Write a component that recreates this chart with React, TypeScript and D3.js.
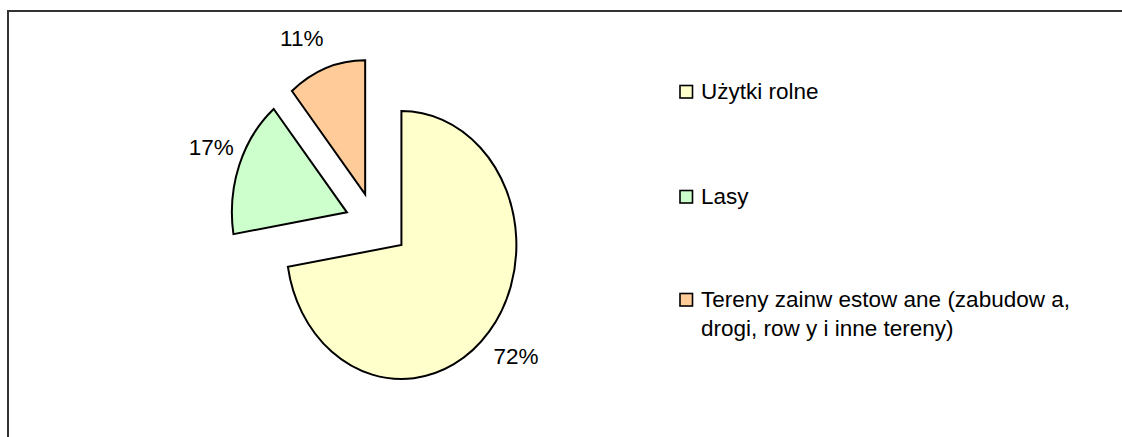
import React from "react";
import * as d3 from "d3";

const categories = ["Użytki rolne", "Lasy", "Tereny zainwestowane"];
const values = [72.4, 16.6, 11.0];
const percentLabels = ["72%", "17%", "11%"];
const legendLines = [
  ["Użytki rolne"],
  ["Lasy"],
  ["Tereny zainw estow ane (zabudow a,", "drogi, row y i inne tereny)"],
];
const colors = ["#FFFFCC", "#CCFFCC", "#FFCC99"];

const W = 1122;
const H = 437;
const FONT = "'Liberation Sans', Arial, sans-serif";
const FS = 22.5;

export default function App() {
  const cx = 375.5;
  const cy = 223;
  const rx = 115;
  const ry = 134;
  const explode = [34, 30.5, 30.5];

  const pie = d3.pie<number>().sort(null).value((d) => d).startAngle(0).endAngle(2 * Math.PI);
  const arcs = pie(values);
  const arcGen = d3.arc<d3.PieArcDatum<number>>().innerRadius(0).outerRadius(1);

  const legendX = 680;
  const legendTextX = 701;
  const legendBaselines = [99, 204, 307];
  const lineGap = 28.5;

  return (
    <>
      <style>{`body{margin:0}`}</style>
      <svg width={W} height={H} style={{ display: "block", overflow: "hidden" }} fontFamily={FONT}>
        <rect x={0} y={0} width={W} height={H} fill="#fff" />
        <rect x={8} y={11} width={1300} height={600} fill="none" stroke="#333" strokeWidth={2} />
        {arcs.map((a, i) => {
          const mid = (a.startAngle + a.endAngle) / 2;
          const dx = Math.sin(mid);
          const dy = -Math.cos(mid);
          const ax = cx + dx * explode[i];
          const ay = cy + dy * explode[i];
          const px = ax + dx * rx * 1.05;
          const py = ay + dy * ry * 1.15;
          const tw = 45;
          const lx = px + Math.sign(dx) * tw / 2;
          const ly = py + Math.sign(dy) * 11;
          return (
            <g key={categories[i]}>
              <g transform={`translate(${ax},${ay}) scale(${rx},${ry})`}>
                <path
                  d={arcGen(a) || ""}
                  fill={colors[i]}
                  stroke="#000"
                  strokeWidth={2}
                  vectorEffect="non-scaling-stroke"
                  strokeLinejoin="miter"
                />
              </g>
              <text x={lx} y={ly + FS * 0.36} textAnchor="middle" fontSize={FS} fill="#000">
                {percentLabels[i]}
              </text>
            </g>
          );
        })}
        {legendLines.map((lines, i) => (
          <g key={"lg" + i}>
            <rect
              x={legendX}
              y={legendBaselines[i] - 13.5}
              width={12.5}
              height={12.5}
              fill={colors[i]}
              stroke="#000"
              strokeWidth={1.6}
            />
            {lines.map((t, j) => (
              <text
                key={j}
                x={legendTextX}
                y={legendBaselines[i] + j * lineGap}
                fontSize={FS}
                fill="#000"
              >
                {t}
              </text>
            ))}
          </g>
        ))}
      </svg>
    </>
  );
}
